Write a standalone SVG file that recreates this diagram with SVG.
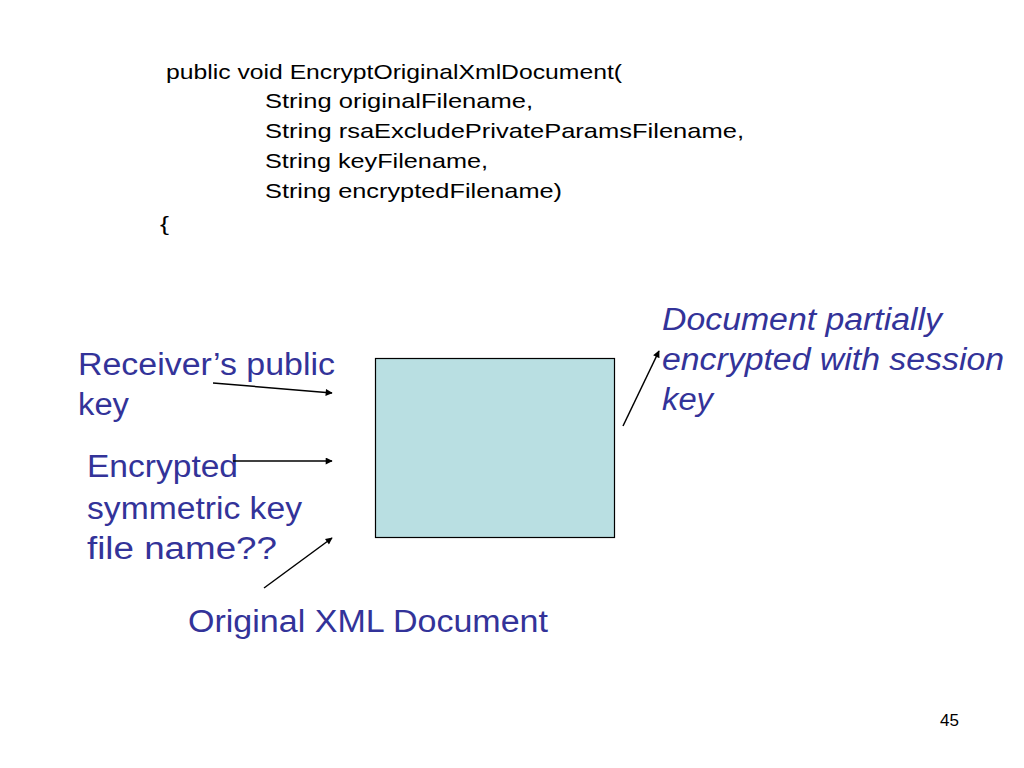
<svg xmlns="http://www.w3.org/2000/svg" width="1024" height="768" viewBox="0 0 1024 768">
<defs>
<style>
.code{font-family:"Liberation Sans",Arial,sans-serif;font-size:21px;fill:#000}
.lbl{font-family:"Liberation Sans",Arial,sans-serif;font-size:31px;fill:#333399}
.it{font-style:italic}
.conn{stroke:#000;stroke-width:1.5;fill:none;marker-end:url(#ah)}
</style>
<marker id="ah" viewBox="0 0 10 10" refX="9" refY="5" markerWidth="8" markerHeight="7" markerUnits="userSpaceOnUse" orient="auto">
<path d="M0,0 L10,5 L0,10 z" fill="#000"/>
</marker>
</defs>
<rect width="1024" height="768" fill="#fff"/>
<g id="code">
<text class="code" x="166" y="79" textLength="456" lengthAdjust="spacingAndGlyphs">public void EncryptOriginalXmlDocument(</text>
<text class="code" x="265" y="108" textLength="268" lengthAdjust="spacingAndGlyphs">String originalFilename,</text>
<text class="code" x="265" y="138" textLength="479" lengthAdjust="spacingAndGlyphs">String rsaExcludePrivateParamsFilename,</text>
<text class="code" x="265" y="168" textLength="223" lengthAdjust="spacingAndGlyphs">String keyFilename,</text>
<text class="code" x="265" y="198" textLength="297" lengthAdjust="spacingAndGlyphs">String encryptedFilename)</text>
<text class="code" x="160" y="231" textLength="9" lengthAdjust="spacingAndGlyphs">{</text>
</g>
<g id="box">
<rect x="375.5" y="358.5" width="239" height="179" fill="#b9dfe2" stroke="#000" stroke-width="1.2"/>
</g>
<g id="receiver-key">
<text class="lbl" x="78" y="375" textLength="257" lengthAdjust="spacingAndGlyphs">Receiver’s public</text>
<text class="lbl" x="78" y="415" textLength="51" lengthAdjust="spacingAndGlyphs">key</text>
</g>
<g id="sym-key">
<text class="lbl" x="87" y="477" textLength="151" lengthAdjust="spacingAndGlyphs">Encrypted</text>
<text class="lbl" x="87" y="519" textLength="215" lengthAdjust="spacingAndGlyphs">symmetric key</text>
<text class="lbl" x="87" y="559" textLength="190" lengthAdjust="spacingAndGlyphs">file name??</text>
</g>
<g id="original-xml">
<text class="lbl" x="188" y="632" textLength="360" lengthAdjust="spacingAndGlyphs">Original XML Document</text>
</g>
<g id="output-doc">
<text class="lbl it" x="662" y="330" textLength="280" lengthAdjust="spacingAndGlyphs">Document partially</text>
<text class="lbl it" x="662" y="370" textLength="342" lengthAdjust="spacingAndGlyphs">encrypted with session</text>
<text class="lbl it" x="662" y="410" textLength="51" lengthAdjust="spacingAndGlyphs">key</text>
</g>
<g id="connectors">
<line class="conn" x1="213" y1="383" x2="332" y2="393"/>
<line class="conn" x1="233" y1="461" x2="332" y2="461"/>
<line class="conn" x1="264" y1="588" x2="332" y2="538"/>
<line class="conn" x1="623" y1="426" x2="659" y2="351"/>
</g>
<g id="page-number">
<text x="940" y="726" font-family="Liberation Sans,Arial,sans-serif" font-size="17" fill="#000">45</text>
</g>
</svg>
